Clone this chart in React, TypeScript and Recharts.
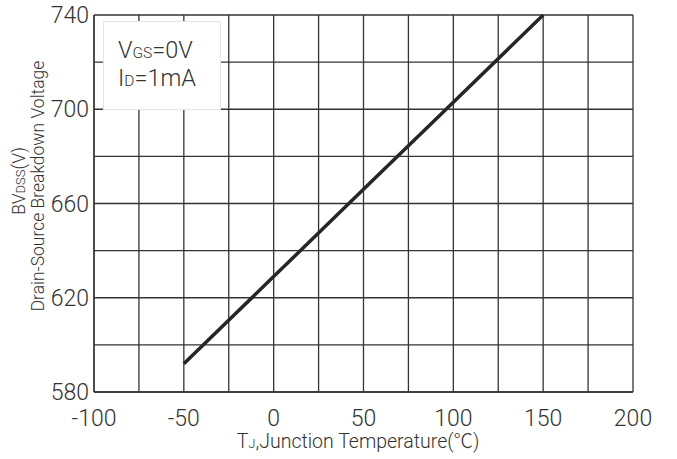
import { CartesianGrid, Line, LineChart, XAxis, YAxis } from "recharts";

// breakdown voltage vs junction temperature
const temps = [-50, 0, 50, 100, 150];
const bvdss = [592, 629, 666, 703, 740];

const xTicks = [-100, -75, -50, -25, 0, 25, 50, 75, 100, 125, 150, 175, 200];
const yTicks = [580, 600, 620, 640, 660, 680, 700, 720, 740];

const data = temps.map((t, i) => ({ t, v: bvdss[i] }));

const FONT = "Roboto, 'Noto Sans CJK SC', 'Liberation Sans', sans-serif";
const TEXT = "#333";
const INK = "#2b2424";

function XLabel() {
  return (
    <text
      x={358}
      y={448}
      textAnchor="middle"
      fontFamily={FONT}
      fontSize={19.5}
      fontWeight={300}
      fill={TEXT}
    >
      T<tspan fontSize={13}>J</tspan>,Junction Temperature(℃)
    </text>
  );
}

function YLabel() {
  return (
    <g fontFamily={FONT} fill={TEXT} fontWeight={300}>
      <text
        transform="translate(25,181) rotate(-90)"
        textAnchor="middle"
        fontSize={17.5}
      >
        BV<tspan fontSize={13}>DSS</tspan>(V)
      </text>
      <text
        transform="translate(44,186) rotate(-90)"
        textAnchor="middle"
        fontSize={17.5}
      >
        Drain-Source Breakdown Voltage
      </text>
    </g>
  );
}

export default function App() {
  return (
    <div style={{ position: "absolute", left: 0, top: 0, width: 677, height: 459, background: "#fff" }}>
      <LineChart
        width={677}
        height={459}
        data={data}
        margin={{ top: 15, right: 44, bottom: 0, left: 0 }}
      >
        <CartesianGrid stroke="#333" strokeWidth={1.3} />
        <XAxis
          dataKey="t"
          type="number"
          domain={[-100, 200]}
          ticks={xTicks}
          interval={0}
          tickFormatter={(v: number) => (v % 50 === 0 ? String(v) : "")}
          height={67}
          tickLine={false}
          tickSize={0}
          tickMargin={18}
          axisLine={{ stroke: "#333", strokeWidth: 1.3 }}
          tick={{ fill: TEXT, fontSize: 23, fontFamily: FONT, fontWeight: 300 }}
          label={<XLabel />}
        />
        <YAxis
          type="number"
          domain={[580, 740]}
          ticks={yTicks}
          interval={0}
          tickFormatter={(v: number) => ((v - 580) % 40 === 0 ? String(v) : "")}
          width={94}
          tickLine={false}
          tickSize={0}
          tickMargin={5}
          axisLine={{ stroke: "#333", strokeWidth: 1.3 }}
          tick={{ fill: TEXT, fontSize: 23, fontFamily: FONT, fontWeight: 300 }}
          label={<YLabel />}
        />
        <Line
          dataKey="v"
          stroke={INK}
          strokeWidth={3.5}
          dot={false}
          isAnimationActive={false}
        />
      </LineChart>
      <div
        style={{
          position: "absolute",
          left: 103,
          top: 21,
          width: 118,
          height: 89,
          background: "#fff",
          border: "1px solid #e4e4e4",
          boxSizing: "border-box",
          fontFamily: FONT,
          fontWeight: 300,
          color: TEXT,
          fontSize: 23.5,
          lineHeight: "25px",
          paddingLeft: 14,
          paddingTop: 16,
        }}
      >
        <div>
          V<span style={{ fontSize: 15.5 }}>GS</span>=0V
        </div>
        <div>
          I<span style={{ fontSize: 15.5 }}>D</span>=1mA
        </div>
      </div>
    </div>
  );
}
